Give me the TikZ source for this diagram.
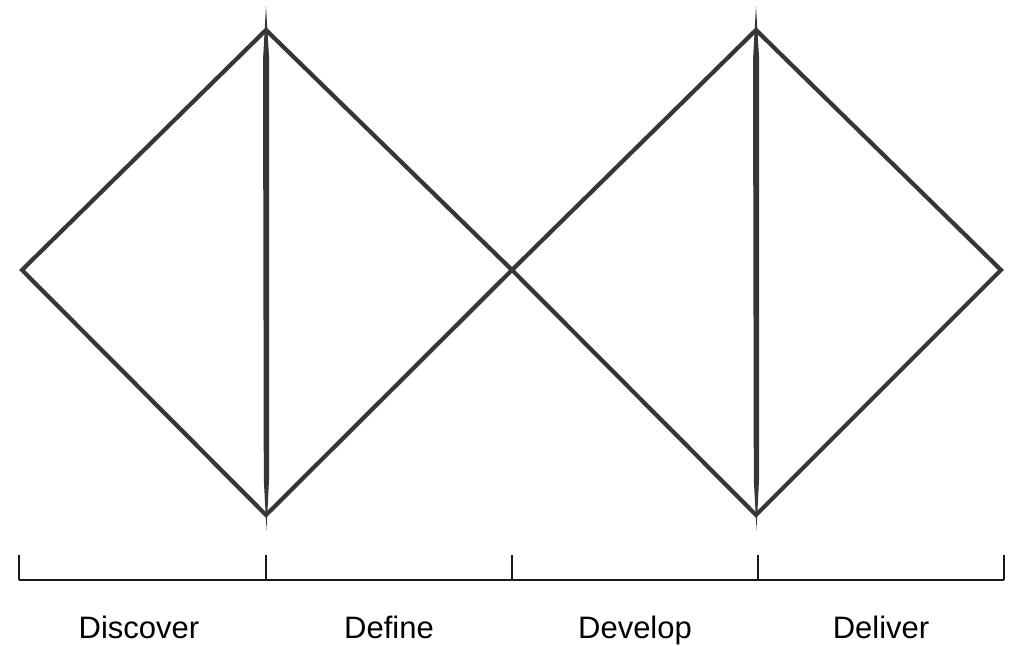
\documentclass[tikz,border=0pt]{standalone}
\usepackage{fontspec}
\setmainfont{Liberation Sans}
\definecolor{ink}{HTML}{363636}
\begin{document}
\begin{tikzpicture}[x=1pt,y=-1pt,
  diam/.style={draw=ink,line width=4.2pt,line join=miter},
  spine/.style={fill=ink,draw=none},
  bar/.style={draw=black!90,line width=1.9pt},
  lbl/.style={font=\fontsize{31}{36}\selectfont,anchor=base,text=black,inner sep=0pt}]
\useasboundingbox (0,0) rectangle (1014,645);
% diamond vertices
\coordinate (L1) at (22,270);
\coordinate (T1) at (266,30);
\coordinate (B1) at (266,515);
\coordinate (M) at (512,270);
\coordinate (T2) at (756,30);
\coordinate (B2) at (756,515);
\coordinate (R2) at (1001,270);
\draw[diam] (L1) -- (T1) -- (M) -- (B1) -- cycle;
\draw[diam] (M) -- (T2) -- (R2) -- (B2) -- cycle;
% tapered vertical spines
\fill[spine] (266,6) -- (269.2,60) -- (269,480) -- (266.5,530) -- (263.8,480) -- (263,60) -- cycle;
\fill[spine] (756,6) -- (759.2,60) -- (759,480) -- (756.5,530) -- (753.8,480) -- (753,60) -- cycle;
% scale bar
\coordinate (s0) at (19,580);
\coordinate (s1) at (266,580);
\coordinate (s2) at (512,580);
\coordinate (s3) at (758,580);
\coordinate (s4) at (1004,580);
\draw[bar] (s0) -- (s4);
\foreach \p in {s0,s1,s2,s3,s4}{\draw[bar] (\p) -- ++(0,-25);}
% labels
\node[lbl] (d1) at (139,638) {Discover};
\node[lbl] (d2) at (389,638) {Define};
\node[lbl] (d3) at (635,638) {Develop};
\node[lbl] (d4) at (881,638) {Deliver};
\end{tikzpicture}
\end{document}
